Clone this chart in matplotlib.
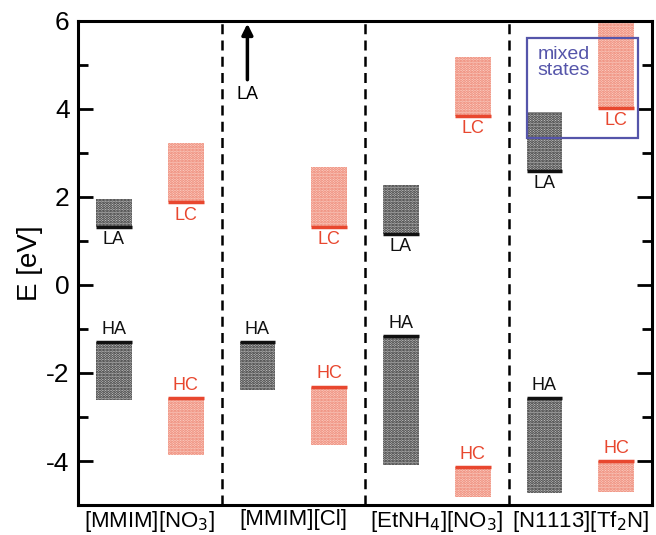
import matplotlib
matplotlib.use("Agg")
import matplotlib.pyplot as plt
from matplotlib.patches import Rectangle

plt.rcParams['font.family'] = ['Liberation Sans', 'DejaVu Sans']
plt.rcParams['hatch.linewidth'] = 1.4
plt.rcParams['axes.unicode_minus'] = False

categories = ['[MMIM][NO$_3$]', '[MMIM][Cl]', '[EtNH$_4$][NO$_3$]', '[N1113][Tf$_2$N]']
# (level, band edge) for each state
LA = [(1.32, 1.95), (None, None), (1.16, 2.27), (2.60, 3.93)]
LC = [(1.88, 3.22), (1.32, 2.68), (3.84, 5.18), (4.02, 6.10)]
HA = [(-1.30, -2.61), (-1.30, -2.39), (-1.16, -4.09), (-2.57, -4.73)]
HC = [(-2.57, -3.87), (-2.31, -3.64), (-4.14, -4.82), (-4.00, -4.70)]
LA_arrow = (4.6, 6.0)  # [MMIM][Cl] LA is off scale
mixed_box = (3.34, 5.61)

red = '#e8472f'
black = '#111111'

fig = plt.figure(figsize=(6.56, 5.35), dpi=100)
ax = fig.add_axes([0.119, 0.056, 0.875, 0.905])
ax.set_xlim(0, 4)
ax.set_ylim(-5, 6)

w = 0.25

def band(xc, level, edge, color, label, above):
    lo, hi = min(level, edge), max(level, edge)
    if color == red:
        r = Rectangle((xc - w/2, lo), w, hi - lo, facecolor='#fbd3c9', edgecolor='#ec7a66',
                      hatch='......', linewidth=0, zorder=1)
    else:
        r = Rectangle((xc - w/2, lo), w, hi - lo, facecolor='#c8c8c8', edgecolor='#222222',
                      hatch='......', linewidth=0, zorder=1)
    ax.add_patch(r)
    ax.plot([xc - w/2, xc + w/2], [level, level], color=color, lw=2.5, zorder=3,
            solid_capstyle='butt')
    if above:
        ax.text(xc, level + 0.1, label, ha='center', va='bottom', color=color, fontsize=13)
    else:
        ax.text(xc, level - 0.1, label, ha='center', va='top', color=color, fontsize=13)

for i in range(4):
    xa = i + 0.25
    xc = i + 0.75
    if LA[i][0] is not None:
        band(xa, LA[i][0], LA[i][1], black, 'LA', False)
    band(xc, LC[i][0], LC[i][1], red, 'LC', False)
    band(xa, HA[i][0], HA[i][1], black, 'HA', True)
    band(xc, HC[i][0], HC[i][1], red, 'HC', True)

# arrow for off-scale LA
ax.annotate('', xy=(1.18, LA_arrow[1]), xytext=(1.18, LA_arrow[0]),
            arrowprops=dict(arrowstyle='-|>', color='black', lw=2.5, mutation_scale=16),
            zorder=5, annotation_clip=False)
ax.text(1.18, LA_arrow[0] - 0.08, 'LA', ha='center', va='top', fontsize=13)

# mixed states box
ax.add_patch(Rectangle((3.13, mixed_box[0]), 0.77, mixed_box[1] - mixed_box[0],
                       fill=False, edgecolor='#5555aa', lw=1.6, zorder=4))
ax.text(3.2, 5.05, 'mixed\nstates', color='#5555aa', fontsize=14, ha='left', va='center',
        linespacing=0.95)

for xv in [1, 2, 3]:
    ax.axvline(xv, color='black', lw=1.8, ls=(0, (4, 2.5)), zorder=2)

ax.set_xticks([0.5, 1.5, 2.5, 3.5])
ax.set_xticklabels(categories, fontsize=16)
ax.tick_params(axis='x', length=0, pad=3)
ax.set_yticks([-4, -2, 0, 2, 4, 6])
ax.set_yticks([-5, -3, -1, 1, 3, 5], minor=True)
ax.tick_params(axis='y', which='major', direction='in', length=11, width=2,
               labelsize=19, right=True, pad=6)
ax.tick_params(axis='y', which='minor', direction='in', length=7, width=2, right=True)
ax.set_ylabel('E [eV]', fontsize=20, labelpad=2)
for s in ax.spines.values():
    s.set_linewidth(2.2)

fig.savefig('out.png', dpi=100)
